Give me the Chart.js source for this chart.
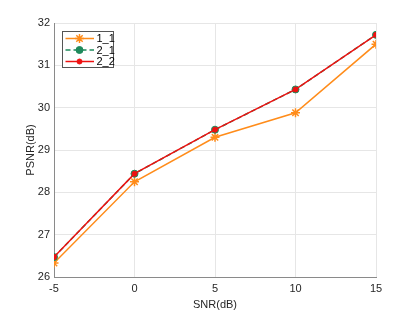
<!DOCTYPE html>
<html>
<head>
<meta charset="utf-8">
<script src="https://cdn.jsdelivr.net/npm/chart.js@4/dist/chart.umd.min.js"></script>
<style>
  html, body { margin: 0; padding: 0; background: #fff; }
  #wrap { width: 415px; height: 312px; }
</style>
</head>
<body>
<div id="wrap"><canvas id="chart" width="415" height="312"></canvas></div>
<script>
const snr = [-5, 0, 5, 10, 15];
const psnr11 = [26.33, 28.25, 29.30, 29.88, 31.50];
const psnr21 = [26.47, 28.44, 29.48, 30.43, 31.72];
const psnr22 = [26.47, 28.44, 29.48, 30.43, 31.72];
const yTicks = [26, 27, 28, 29, 30, 31, 32];

const FONT = "'Liberation Sans', Arial, sans-serif";

const toPts = (ys) => ys.map((y, i) => ({ x: snr[i], y }));

// MATLAB-like legend in the upper-left corner of the plot area
const boxLegend = {
  id: "boxLegend",
  afterDraw(chart) {
    const { ctx, chartArea } = chart;
    const x0 = chartArea.left + 8.5, y0 = chartArea.top + 8.5;
    const w = 51, h = 36;
    ctx.save();
    ctx.fillStyle = "#fff";
    ctx.fillRect(x0, y0, w, h);
    ctx.strokeStyle = "#555";
    ctx.lineWidth = 1;
    ctx.strokeRect(x0, y0, w, h);
    chart.data.datasets.forEach((ds, i) => {
      const cy = y0 + 7 + i * 11.5;
      ctx.strokeStyle = ds.borderColor;
      ctx.lineWidth = ds.borderWidth;
      ctx.setLineDash(ds.borderDash || []);
      ctx.beginPath();
      ctx.moveTo(x0 + 3, cy);
      ctx.lineTo(x0 + 31.5, cy);
      ctx.stroke();
      ctx.setLineDash([]);
      ctx.fillStyle = ds.pointBackgroundColor;
      ctx.strokeStyle = ds.pointBorderColor;
      ctx.lineWidth = ds.pointBorderWidth;
      Chart.helpers.drawPoint(ctx, {
        pointStyle: ds.pointStyle,
        radius: ds.pointRadius,
        borderWidth: ds.pointBorderWidth,
      }, x0 + 17, cy);
      ctx.fillStyle = "#000";
      ctx.font = "11px " + FONT;
      ctx.textBaseline = "middle";
      ctx.textAlign = "left";
      ctx.fillText(ds.label, x0 + 34, cy + 0.5);
    });
    ctx.restore();
  },
};

new Chart(document.getElementById("chart"), {
  type: "line",
  data: {
    datasets: [
      {
        label: "1_1",
        data: toPts(psnr11),
        order: 2,
        borderColor: "#ff8c1a",
        borderWidth: 1.5,
        pointStyle: "star",
        pointRadius: 4.5,
        pointBorderWidth: 1.5,
        pointBackgroundColor: "#ff8c1a",
        pointBorderColor: "#ff8c1a",
      },
      {
        label: "2_1",
        data: toPts(psnr21),
        order: 1,
        borderColor: "#1f8a5c",
        borderWidth: 1.5,
        borderDash: [5, 3],
        pointStyle: "circle",
        pointRadius: 3.5,
        pointBorderWidth: 1,
        pointBackgroundColor: "#1f8a5c",
        pointBorderColor: "#1f8a5c",
      },
      {
        label: "2_2",
        data: toPts(psnr22),
        order: 0,
        borderColor: "#ee1111",
        borderWidth: 1.5,
        pointStyle: "circle",
        pointRadius: 2.5,
        pointBorderWidth: 1,
        pointBackgroundColor: "#ee1111",
        pointBorderColor: "#ee1111",
      },
    ],
  },
  options: {
    responsive: false,
    animation: false,
    layout: { padding: { left: 0, right: 39, top: 23, bottom: 0 } },
    plugins: {
      legend: { display: false },
      tooltip: { enabled: false },
    },
    scales: {
      x: {
        type: "linear",
        min: -5,
        max: 15,
        afterBuildTicks: (s) => { s.ticks = snr.map((v) => ({ value: v })); },
        afterFit: (s) => { s.height = 35; },
        border: { color: "#8a8a8a", width: 1 },
        grid: { color: "#e6e6e6", drawTicks: false },
        ticks: { color: "#262626", font: { family: FONT, size: 11 }, padding: 5 },
        title: { display: true, text: "SNR(dB)", color: "#262626", font: { family: FONT, size: 11 }, padding: { top: 1, bottom: 0 } },
      },
      y: {
        min: 26,
        max: 32,
        afterBuildTicks: (s) => { s.ticks = yTicks.map((v) => ({ value: v })); },
        afterFit: (s) => { s.width = 54; },
        border: { color: "#8a8a8a", width: 1 },
        grid: { color: "#e6e6e6", drawTicks: false },
        ticks: { color: "#262626", font: { family: FONT, size: 11 }, padding: 4 },
        title: { display: true, text: "PSNR(dB)", color: "#262626", font: { family: FONT, size: 11 }, padding: { top: 24, bottom: 0 } },
      },
    },
  },
  plugins: [boxLegend],
});
</script>
</body>
</html>
